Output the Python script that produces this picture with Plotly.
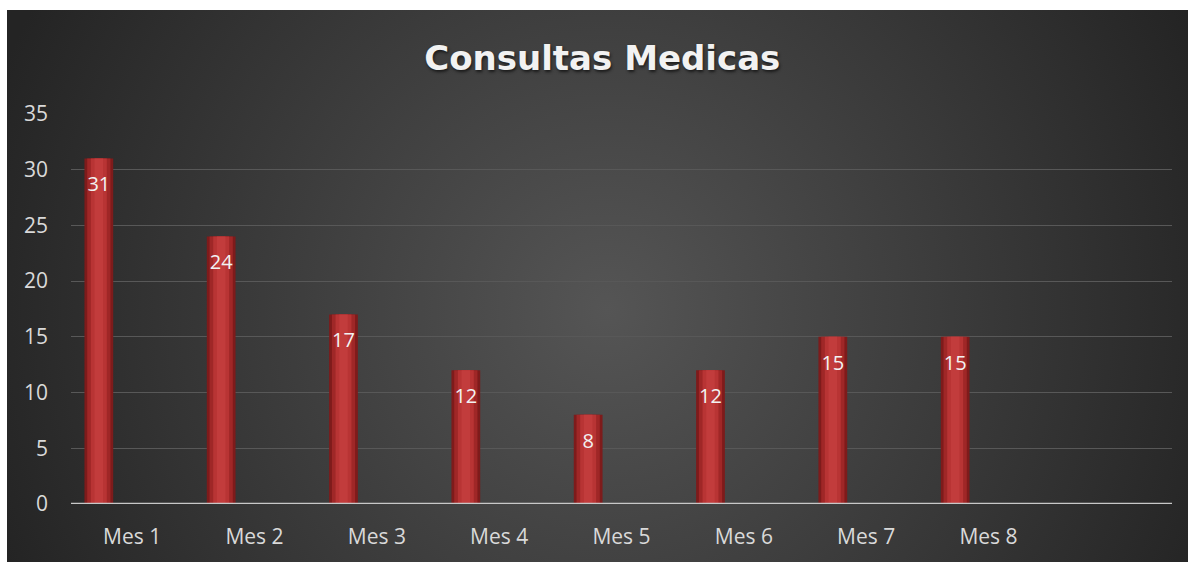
import base64
import plotly.graph_objects as go

# ---- data ----
categories = ["Mes 1", "Mes 2", "Mes 3", "Mes 4", "Mes 5", "Mes 6", "Mes 7", "Mes 8"]
consultas = [31, 24, 17, 12, 8, 12, 15, 15]
y_ticks = [0, 5, 10, 15, 20, 25, 30, 35]

W, H = 1188, 562
L, R, T, B = 71, 16, 114, 58
pw, ph = W - L - R, H - T - B

idx = list(range(len(categories)))
center_off = -0.2725  # bar centre relative to category centre (category units)

fig = go.Figure()

# bar layers for a horizontal shading effect
layers = [(0.235, "#7e1b1b"), (0.19, "#9f2727"), (0.13, "#b83434"), (0.07, "#c23c3c")]
for w, c in layers:
    fig.add_trace(go.Bar(
        x=idx, y=consultas, width=w, offset=center_off - w / 2,
        marker=dict(color=c, line=dict(width=0)),
        hoverinfo="skip", showlegend=False,
    ))

# data labels
fig.add_trace(go.Scatter(
    x=[i + center_off for i in idx], y=[v - 2.5 for v in consultas],
    mode="text", text=[str(v) for v in consultas],
    textposition="middle center",
    textfont=dict(family="Open Sans", size=20, color="#f2f2f2"),
    hoverinfo="skip", showlegend=False,
))

# radial gradient background as inline SVG
svg = (
    '<svg xmlns="http://www.w3.org/2000/svg" width="1181" height="552" viewBox="0 0 1181 552" preserveAspectRatio="none">'
    '<defs><radialGradient id="g" gradientUnits="userSpaceOnUse" cx="600" cy="300" r="650">'
    '<stop offset="0" stop-color="#555555"/><stop offset="1" stop-color="#242424"/>'
    '</radialGradient></defs><rect width="1181" height="552" fill="url(#g)"/></svg>'
)
src = "data:image/svg+xml;base64," + base64.b64encode(svg.encode()).decode()

x0 = (7 - L) / pw
y_top = (H - B - 10) / ph
fig.add_layout_image(dict(
    source=src, xref="paper", yref="paper", x=x0, y=y_top,
    sizex=(W - 7) / pw, sizey=(H - 10) / ph, sizing="stretch",
    xanchor="left", yanchor="top", layer="below",
))

fig.update_layout(
    width=W, height=H,
    margin=dict(l=L, r=R, t=T, b=B, pad=0),
    paper_bgcolor="white", plot_bgcolor="rgba(0,0,0,0)",
    barmode="overlay",
    title=dict(
        text="Consultas Medicas", x=0.507, xref="container", xanchor="center",
        y=1 - 58 / H, yref="container", yanchor="middle",
        font=dict(family="DejaVu Sans", size=34, weight="bold", color="#f2f2f2",
                  shadow="1px 2px 3px #1a1a1a"),
    ),
    xaxis=dict(
        range=[-0.5, 8.5], tickvals=idx, ticktext=categories,
        showgrid=False, zeroline=False, showline=False, ticks="",
        tickfont=dict(family="Open Sans", size=21, color="#d9d9d9"),
        ticklabelstandoff=18,
    ),
    yaxis=dict(
        range=[0, 35], tickvals=y_ticks, showgrid=True, gridcolor="#585858", gridwidth=1,
        zeroline=False, showline=False, ticks="",
        tickfont=dict(family="Open Sans", size=21, color="#d9d9d9"),
        ticklabelstandoff=22,
    ),
    shapes=[dict(type="line", xref="paper", yref="y", x0=0, x1=1, y0=0, y1=0,
                 line=dict(color="#c8c8c8", width=2.5), layer="above")],
)

fig.write_html("out.html", config={"displayModeBar": False},
               post_script="document.body.style.margin='0';")
